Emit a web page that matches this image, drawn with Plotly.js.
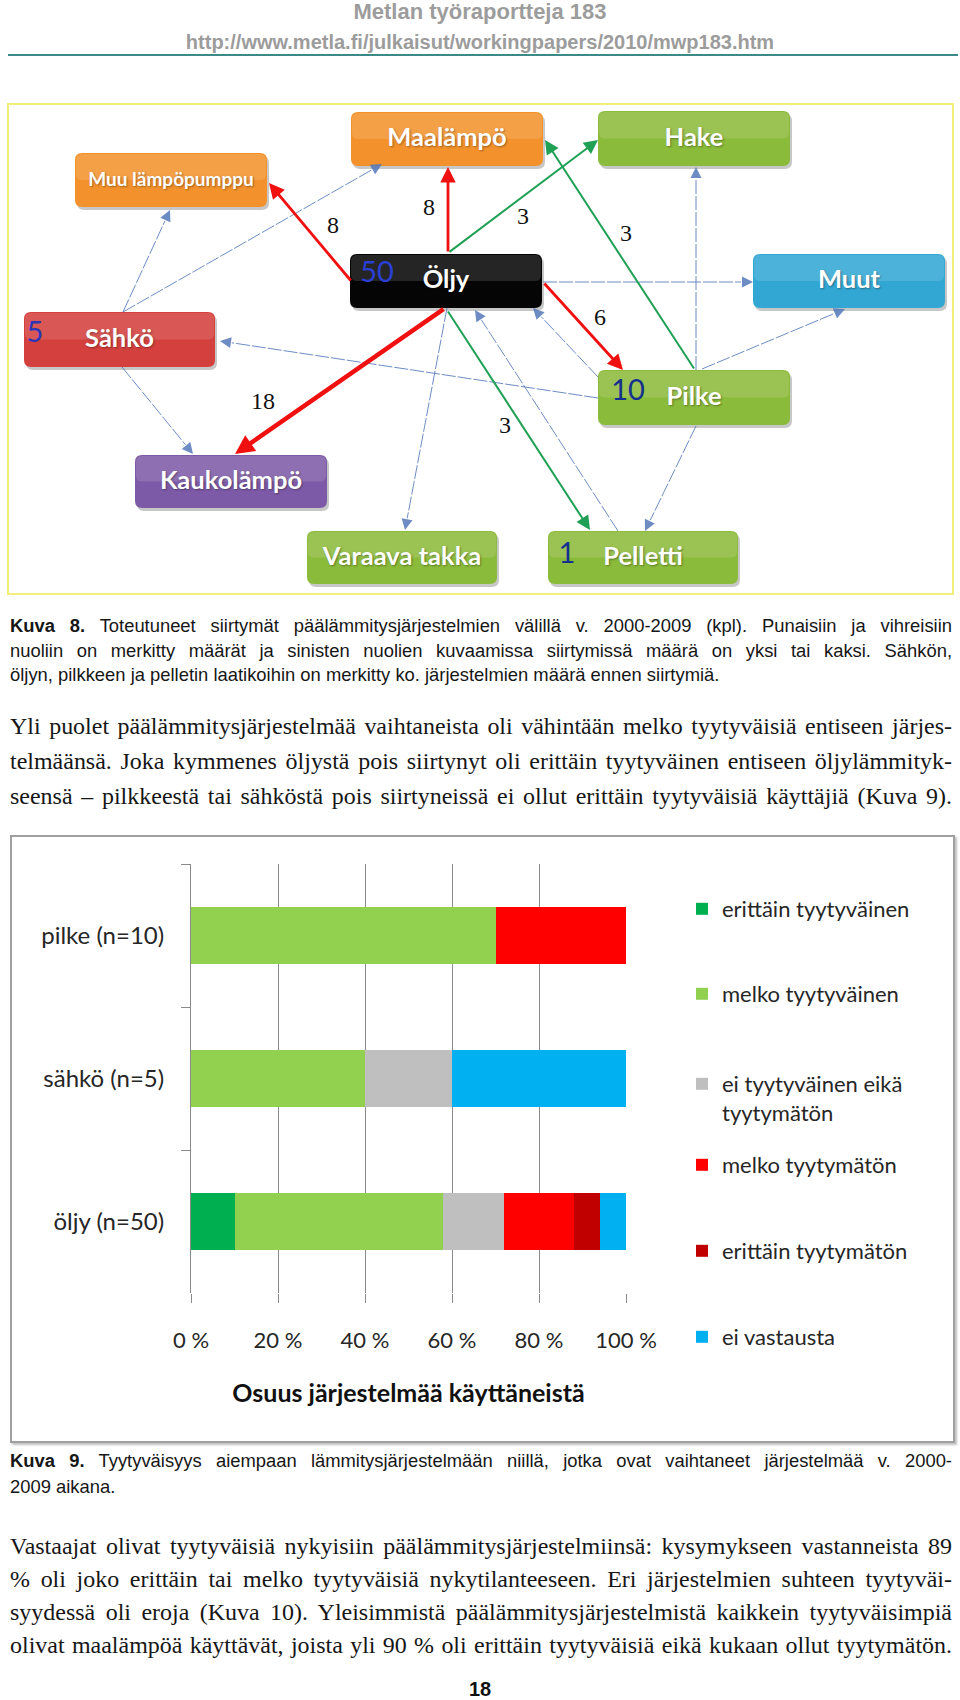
<!DOCTYPE html>
<html lang="fi">
<head>
<meta charset="utf-8">
<title>Kuva 8 ja Kuva 9</title>
<script src="https://cdn.plot.ly/plotly-3.0.1.min.js"></script>
<style>
html,body{margin:0;padding:0;background:#fff;}
#page{position:relative;width:960px;height:1700px;overflow:hidden;background:#fff;}
.hdr{position:absolute;left:0;width:960px;text-align:center;font-family:"Liberation Sans",Arial,sans-serif;font-weight:bold;color:#9c9c9c;white-space:nowrap;}
#rule{position:absolute;left:8px;top:54px;width:950px;height:2px;background:#3b8a88;}
.blk{position:absolute;left:10px;width:942px;color:#161616;}
.sans{font-family:"Liberation Sans",Arial,sans-serif;font-size:18.4px;}
.serif{font-family:"Liberation Serif","Times New Roman",serif;font-size:24px;}
.ln{text-align:justify;text-align-last:justify;}
.last{text-align:left;text-align-last:left;}
#frame{position:absolute;left:10px;top:835px;width:945px;height:608px;box-sizing:border-box;border:2px solid #a0a0a0;box-shadow:2px 2px 2px rgba(0,0,0,.25);}
#diagram{position:absolute;left:0;top:90px;width:960px;height:510px;}
#chart{position:absolute;left:0;top:835px;width:960px;height:610px;}
#pno{position:absolute;left:0;width:960px;top:1678px;text-align:center;font-family:"Liberation Sans",Arial,sans-serif;font-weight:bold;font-size:20px;line-height:22px;color:#111;}
</style>
</head>
<body>
<div id="page">
  <div class="hdr" style="top:0px;font-size:22px;line-height:24px;">Metlan työraportteja 183</div>
  <div class="hdr" style="top:30px;font-size:20px;line-height:24px;">http://www.metla.fi/julkaisut/workingpapers/2010/mwp183.htm</div>
  <div id="rule"></div>

  <div id="diagram"></div>

  <div class="blk sans" style="top:614px;line-height:24.5px;">
    <div class="ln"><b>Kuva 8.</b> Toteutuneet siirtymät päälämmitysjärjestelmien välillä v. 2000-2009 (kpl). Punaisiin ja vihreisiin</div>
    <div class="ln">nuoliin on merkitty määrät ja sinisten nuolien kuvaamissa siirtymissä määrä on yksi tai kaksi. Sähkön,</div>
    <div class="ln last">öljyn, pilkkeen ja pelletin laatikoihin on merkitty ko. järjestelmien määrä ennen siirtymiä.</div>
  </div>

  <div class="blk serif" style="top:709px;line-height:35px;">
    <div class="ln">Yli puolet päälämmitysjärjestelmää vaihtaneista oli vähintään melko tyytyväisiä entiseen järjes-</div>
    <div class="ln">telmäänsä. Joka kymmenes öljystä pois siirtynyt oli erittäin tyytyväinen entiseen öljylämmityk-</div>
    <div class="ln">seensä – pilkkeestä tai sähköstä pois siirtyneissä ei ollut erittäin tyytyväisiä käyttäjiä (Kuva 9).</div>
  </div>

  <div id="frame"></div>
  <div id="chart"></div>

  <div class="blk sans" style="top:1448px;line-height:26px;">
    <div class="ln"><b>Kuva 9.</b> Tyytyväisyys aiempaan lämmitysjärjestelmään niillä, jotka ovat vaihtaneet järjestelmää v. 2000-</div>
    <div class="ln last">2009 aikana.</div>
  </div>

  <div class="blk serif" style="top:1530px;line-height:33px;">
    <div class="ln">Vastaajat olivat tyytyväisiä nykyisiin päälämmitysjärjestelmiinsä: kysymykseen vastanneista 89</div>
    <div class="ln">% oli joko erittäin tai melko tyytyväisiä nykytilanteeseen. Eri järjestelmien suhteen tyytyväi-</div>
    <div class="ln">syydessä oli eroja (Kuva 10). Yleisimmistä päälämmitysjärjestelmistä kaikkein tyytyväisimpiä</div>
    <div class="ln">olivat maalämpöä käyttävät, joista yli 90 % oli erittäin tyytyväisiä eikä kukaan ollut tyytymätön.</div>
  </div>

  <div id="pno">18</div>
</div>

<script>
// ================= DATA: Kuva 8 (transitions between heating systems) =================
const systems = ['Muu lämpöpumppu','Maalämpö','Hake','Öljy','Muut','Sähkö','Pilke','Kaukolämpö','Varaava takka','Pelletti'];
const countedSystems = ['Öljy','Sähkö','Pilke','Pelletti'];
const countsBefore = [50, 5, 10, 1];
const flowFrom = ['Öljy','Öljy','Öljy','Öljy','Öljy','Pilke','Öljy',
                  'Sähkö','Sähkö','Sähkö','Pilke','Öljy','Pilke','Pilke','Pilke','Öljy','Pelletti','Pilke'];
const flowTo   = ['Muu lämpöpumppu','Maalämpö','Kaukolämpö','Pilke','Hake','Maalämpö','Pelletti',
                  'Muu lämpöpumppu','Maalämpö','Kaukolämpö','Sähkö','Muut','Hake','Muut','Öljy','Varaava takka','Öljy','Pelletti'];
// null = one or two transitions (blue arrows, not labelled)
const flowCount = [8, 8, 18, 6, 3, 3, 3,
                   null, null, null, null, null, null, null, null, null, null, null];

// ================= DATA: Kuva 9 (satisfaction, % of users) =================
const categories = ['pilke (n=10)', 'sähkö (n=5)', 'öljy (n=50)'];
const seriesNames = ['erittäin tyytyväinen', 'melko tyytyväinen', 'ei tyytyväinen eikä<br>tyytymätön',
                     'melko tyytymätön', 'erittäin tyytymätön', 'ei vastausta'];
const erittainTyytyvainen = [0, 0, 10];
const melkoTyytyvainen    = [70, 40, 48];
const eiKumpikaan         = [0, 20, 14];
const melkoTyytymaton     = [30, 0, 16];
const erittainTyytymaton  = [0, 0, 6];
const eiVastausta         = [0, 40, 6];
const xTicks = [0, 20, 40, 60, 80, 100];
const xTitle = 'Osuus järjestelmää käyttäneistä';

// ================= LAYOUT / STYLE (positions in page pixels) =================
const boxGeom = {
  'Muu lämpöpumppu':[75,153,267,207], 'Maalämpö':[351,112,543,166], 'Hake':[598,111,790,166],
  'Öljy':[350,254,542,308], 'Muut':[753,254,945,308], 'Sähkö':[24,312,215,367],
  'Pilke':[598,370,790,425], 'Kaukolämpö':[135,455,327,508], 'Varaava takka':[307,531,497,584],
  'Pelletti':[548,531,738,584]
};
const boxColor = {
  'Muu lämpöpumppu':'#F3922C', 'Maalämpö':'#F3922C', 'Hake':'#8BBB3A', 'Öljy':'#050505',
  'Muut':'#33A7D4', 'Sähkö':'#D4403D', 'Pilke':'#8BBB3A', 'Kaukolämpö':'#7D5AA7',
  'Varaava takka':'#8BBB3A', 'Pelletti':'#8BBB3A'
};
const boxFont = {'Muu lämpöpumppu':19};
const numberOffset = {'Öljy':[27,-6], 'Sähkö':[11,-5], 'Pilke':[30,-5], 'Pelletti':[19,-2]};
const numberColor = {'Öljy':'#2a3fd4', 'Sähkö':'#2b35b8', 'Pilke':'#14308f', 'Pelletti':'#14308f'};
// tail x,y -> head x,y for each flow
const flowGeom = [
  [352,282,269,183],[448,253,448,167],[445,308,235,454],[543,282,623,370],
  [448,253,598,140],[695,370,545,140],[447,310,590,530],
  [123,312,170,210],[123,312,382,164],[122,367,193,454],[598,398,220,341],
  [543,282,753,282],[696,370,696,167],[702,369,845,309],[598,377,533,308],
  [447,308,405,530],[618,531,475,310],[696,426,645,531]
];
const flowLabelPos = [[333,227],[429,209],[263,403],[600,319],[523,218],[626,235],[505,427]];

function flowStyle(c){
  if (c === null) return {color:'rgba(84,120,185,0.85)', width:1, size:2.2, dash:'14px,2px'};
  if (c >= 15) return {color:'#F01010', width:4.5, size:0.85};
  if (c >= 6)  return {color:'#F01010', width:2.8, size:1.1};
  return {color:'#1FA055', width:2, size:1.4};
}

function roundRect(x0,y0,x1,y1,r){
  return `M${x0+r},${y0} L${x1-r},${y0} Q${x1},${y0} ${x1},${y0+r} L${x1},${y1-r} Q${x1},${y1} ${x1-r},${y1}` +
         ` L${x0+r},${y1} Q${x0},${y1} ${x0},${y1-r} L${x0},${y0+r} Q${x0},${y0} ${x0+r},${y0} Z`;
}

// ---------- Diagram ----------
const shapes = [{type:'rect', xref:'x', yref:'y', x0:8, y0:104, x1:953, y1:594,
                 line:{color:'#F2EE7A', width:2}, fillcolor:'rgba(0,0,0,0)', layer:'below'}];
systems.forEach(s => {
  const [x0,y0,x1,y1] = boxGeom[s];
  shapes.push({type:'path', xref:'x', yref:'y', path:roundRect(x0+2,y0+3,x1+2,y1+3,7),
               fillcolor:'rgba(0,0,0,0.22)', line:{width:0}, layer:'below'});
  shapes.push({type:'path', xref:'x', yref:'y', path:roundRect(x0,y0,x1,y1,7),
               fillcolor:boxColor[s], line:{width:0}, layer:'below'});
  shapes.push({type:'path', xref:'x', yref:'y', path:roundRect(x0+1,y0+1,x1-1,y0+(y1-y0)*0.5,6),
               fillcolor:'rgba(255,255,255,0.13)', line:{width:0}, layer:'below'});
});

const annotations = [];
flowFrom.forEach((f,i) => {
  const st = flowStyle(flowCount[i]);
  const g = flowGeom[i];
  let ax = g[0], ay = g[1];
  if (st.dash) {
    // thin body drawn as a line shape, solid arrowhead via annotation
    const dx = g[2]-g[0], dy = g[3]-g[1], L = Math.hypot(dx,dy);
    ax = g[2] - dx/L*12; ay = g[3] - dy/L*12;
    shapes.push({type:'line', xref:'x', yref:'y', x0:g[0], y0:g[1], x1:ax, y1:ay,
                 line:{color:st.color, width:st.width, dash:st.dash}, layer:'above'});
  }
  annotations.push({x:g[2], y:g[3], ax:ax, ay:ay, xref:'x', yref:'y', axref:'x', ayref:'y',
          text:'', showarrow:true, arrowhead:2, arrowsize:st.size, arrowwidth:st.width,
          arrowcolor:st.color, standoff:0, startstandoff:0});
});

const labelTrace = {
  type:'scatter', mode:'text', hoverinfo:'skip', showlegend:false,
  x: systems.map(s => (boxGeom[s][0]+boxGeom[s][2])/2),
  y: systems.map(s => (boxGeom[s][1]+boxGeom[s][3])/2 + 1),
  text: systems,
  textposition:'middle center',
  textfont:{family:'Lato, "Open Sans", sans-serif', weight:'bold', color:'#ffffff',
            size: systems.map(s => boxFont[s] || 25.5), shadow:'1px 1px 2px rgba(0,0,0,0.35)'}
};
const countTrace = {
  type:'scatter', mode:'text', hoverinfo:'skip', showlegend:false,
  x: countedSystems.map(s => boxGeom[s][0] + numberOffset[s][0]),
  y: countedSystems.map(s => (boxGeom[s][1]+boxGeom[s][3])/2 + numberOffset[s][1]),
  text: countsBefore.map(String),
  textposition:'middle center',
  textfont:{family:'Lato, "Open Sans", sans-serif', size:29, color: countedSystems.map(s => numberColor[s])}
};
const labelled = flowCount.map((c,i)=>i).filter(i => flowCount[i] !== null);
const flowLabelTrace = {
  type:'scatter', mode:'text', hoverinfo:'skip', showlegend:false,
  x: labelled.map(i => flowLabelPos[i][0]),
  y: labelled.map(i => flowLabelPos[i][1]),
  text: labelled.map(i => String(flowCount[i])),
  textposition:'middle center',
  textfont:{family:'"Liberation Serif", "DejaVu Serif", serif', size:24, color:'#111111'}
};

Plotly.newPlot('diagram', [labelTrace, countTrace, flowLabelTrace], {
  width:960, height:510, margin:{l:0,r:0,t:0,b:0},
  paper_bgcolor:'rgba(0,0,0,0)', plot_bgcolor:'rgba(0,0,0,0)',
  xaxis:{range:[0,960], visible:false, fixedrange:true},
  yaxis:{range:[600,90], visible:false, fixedrange:true},
  shapes:shapes, annotations:annotations, showlegend:false
}, {staticPlot:true, displayModeBar:false});

// ---------- Bar chart (Kuva 9) ----------
const seriesValues = [erittainTyytyvainen, melkoTyytyvainen, eiKumpikaan, melkoTyytymaton, erittainTyytymaton, eiVastausta];
const seriesColors = ['#00B050', '#92D050', '#BFBFBF', '#FF0000', '#C00000', '#00B0F0'];
const legendIds = ['legend','legend2','legend3','legend4','legend5','legend6'];
const legendPageY = [909, 994, 1081, 1165, 1251, 1337];
const CH_TOP = 835, CH_H = 610;
const fontFam = 'Lato, "Open Sans", sans-serif';

const barTraces = seriesNames.map((name,k) => ({
  type:'bar', orientation:'h', name:name, x:seriesValues[k], y:categories,
  marker:{color:seriesColors[k], line:{width:0}}, legend:legendIds[k], showlegend:true, hoverinfo:'skip'
}));

const chartLayout = {
  width:960, height:CH_H, showlegend:true,
  margin:{l:191, r:334, t:29, b:152},
  paper_bgcolor:'rgba(0,0,0,0)', plot_bgcolor:'rgba(0,0,0,0)',
  barmode:'stack', bargap:0.6,
  font:{family:fontFam, size:22, color:'#262626'},
  xaxis:{range:[0,100], tickvals:xTicks, ticktext:xTicks.map(v => v + ' %'),
         showgrid:true, gridcolor:'#8a8a8a', gridwidth:1, zeroline:false, showline:false,
         ticks:'outside', ticklen:9, tickcolor:'#8a8a8a', tickwidth:1,
         tickfont:{family:fontFam, size:22, color:'#262626'}, ticklabelstandoff:19,
         title:{text:xTitle, font:{family:fontFam, size:25, weight:'bold', color:'#111'}, standoff:32},
         fixedrange:true, automargin:false},
  yaxis:{type:'category', autorange:'reversed', tickson:'boundaries', ticks:'outside', ticklen:9,
         tickcolor:'#8a8a8a', showline:true, linecolor:'#8a8a8a', linewidth:1, showgrid:false,
         tickfont:{family:fontFam, size:24, color:'#262626'}, ticklabelstandoff:21,
         fixedrange:true, automargin:false}
};
legendIds.forEach((id,k) => {
  chartLayout[id] = {visible:true, x:682/960, xref:'container', xanchor:'left',
                     y:1 - (legendPageY[k] - CH_TOP)/CH_H, yref:'container',
                     yanchor: k === 2 ? 'top' : 'middle', valign:'top',
                     bgcolor:'rgba(0,0,0,0)', borderwidth:0,
                     font:{family:fontFam, size:22, color:'#262626'}};
});
// the two-line item is anchored by its top edge
chartLayout['legend3'].y = 1 - (legendPageY[2] - 18 - CH_TOP)/CH_H;

Plotly.newPlot('chart', barTraces, chartLayout, {staticPlot:true, displayModeBar:false});

// ---------- keep each typeset line on one line (shrink only if it would overflow) ----------
function fitLines(){
  document.querySelectorAll('.ln').forEach(el => {
    el.style.fontSize = '';
    const span = document.createElement('span');
    span.style.whiteSpace = 'nowrap';
    while (el.firstChild) span.appendChild(el.firstChild);
    el.appendChild(span);
    const w = span.getBoundingClientRect().width;
    while (span.firstChild) el.appendChild(span.firstChild);
    el.removeChild(span);
    const avail = el.clientWidth - 1;
    if (w > avail) {
      const fs = parseFloat(getComputedStyle(el).fontSize);
      el.style.fontSize = (fs * avail / w) + 'px';
    }
  });
}
fitLines();
if (document.fonts && document.fonts.ready) document.fonts.ready.then(fitLines);
</script>
</body>
</html>
